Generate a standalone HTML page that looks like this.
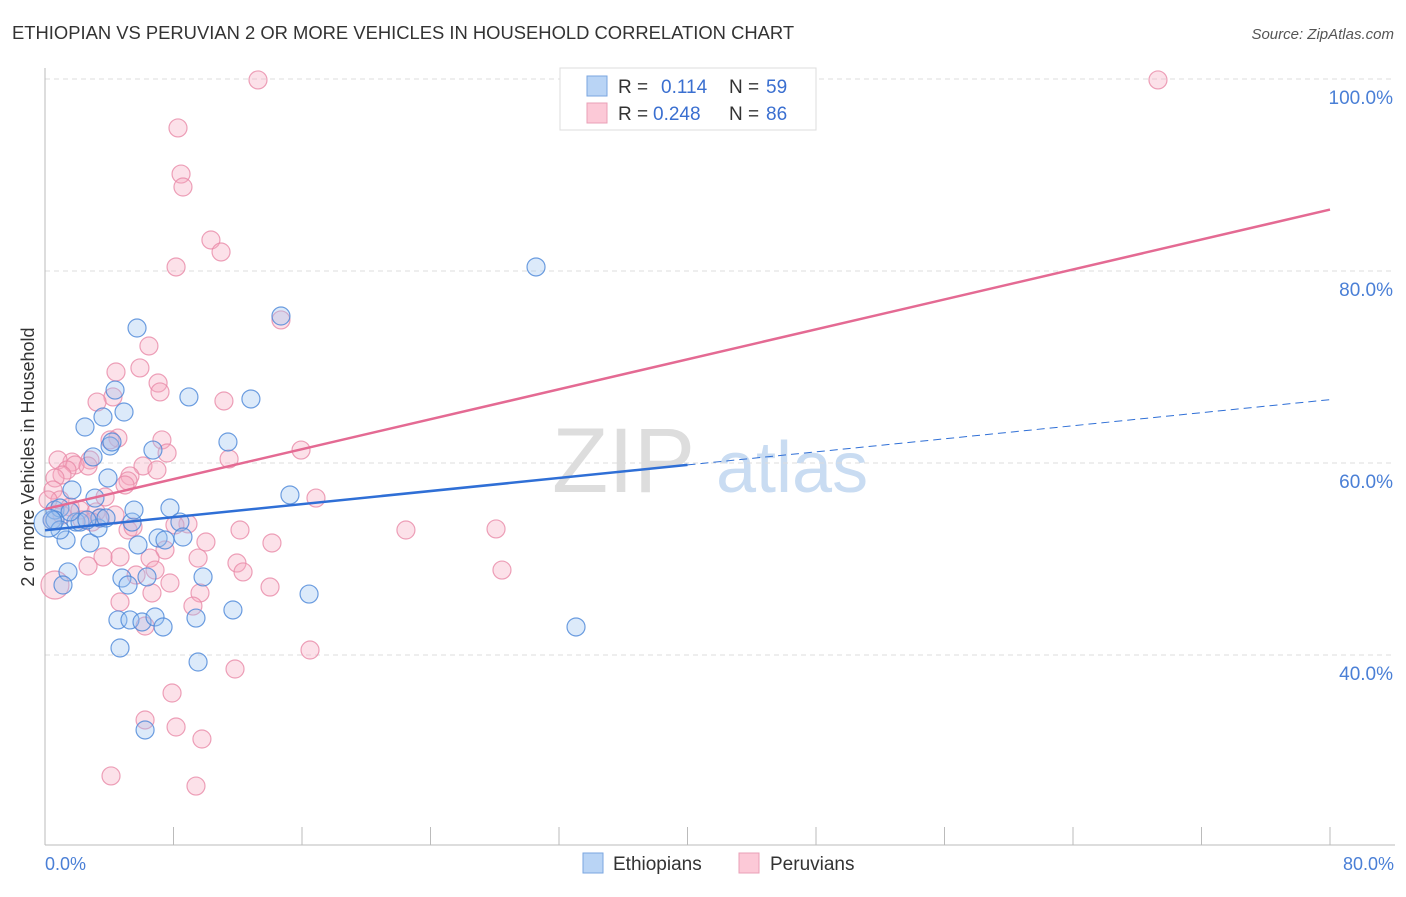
<!DOCTYPE html>
<html><head><meta charset="utf-8"><style>
body{margin:0;background:#fff;font-family:"Liberation Sans",sans-serif;}
svg text{font-family:"Liberation Sans",sans-serif;}
</style></head><body>
<svg id="chart" width="1406" height="892" xmlns="http://www.w3.org/2000/svg">
<text x="12" y="39" font-size="18.4" fill="#333">ETHIOPIAN VS PERUVIAN 2 OR MORE VEHICLES IN HOUSEHOLD CORRELATION CHART</text>
<text x="1394" y="39" font-size="15" fill="#555" font-style="italic" text-anchor="end">Source: ZipAtlas.com</text>
<g>
<text x="552" y="492" font-size="92" fill="#ddd" font-family="Liberation Serif,serif">ZIP</text>
<text x="716" y="492" font-size="72" fill="#c9dcf2">atlas</text>
</g>
<g id="grid"></g>
<g id="axes"></g>
<g id="pts"></g>
<g id="lines"></g>
<g>
<rect x="560" y="68" width="256" height="62" fill="#fff" stroke="#ddd"/>
<rect x="587" y="76" width="20" height="20" fill="#b9d4f5" stroke="#7aa6e0"/>
<rect x="587" y="103" width="20" height="20" fill="#fcc9d7" stroke="#eaa0b7"/>
<text x="618" y="93" font-size="19" fill="#333">R = </text><text x="661" y="93" font-size="19" fill="#3a6fd0">0.114</text>
<text x="729" y="93" font-size="19" fill="#333">N = </text><text x="766" y="93" font-size="19" fill="#3a6fd0">59</text>
<text x="618" y="120" font-size="19" fill="#333">R = </text><text x="653" y="120" font-size="19" fill="#3a6fd0">0.248</text>
<text x="729" y="120" font-size="19" fill="#333">N = </text><text x="766" y="120" font-size="19" fill="#3a6fd0">86</text>
</g>
<text transform="translate(34,457) rotate(-90)" font-size="18" fill="#333" text-anchor="middle">2 or more Vehicles in Household</text>
<text x="45" y="870" font-size="18" fill="#4a7fd6">0.0%</text>
<text x="1394" y="870" font-size="18" fill="#4a7fd6" text-anchor="end">80.0%</text>
<g>
<rect x="583" y="853" width="20" height="20" fill="#b9d4f5" stroke="#7aa6e0"/>
<text x="613" y="870" font-size="19" fill="#333">Ethiopians</text>
<rect x="739" y="853" width="20" height="20" fill="#fcc9d7" stroke="#eaa0b7"/>
<text x="770" y="870" font-size="19" fill="#333">Peruvians</text>
</g>
</svg>
<script>
const yTicks=[40,60,80,100];
const yTickLabels=["40.0%","60.0%","80.0%","100.0%"];
const xTicks=[0,8,16,24,32,40,48,56,64,72,80];
const bluePx=[[52,520],[55,510],[60,508],[66,540],[68,572],[63,585],[72,490],[76,522],[80,522],[85,427],[90,543],[93,457],[95,498],[98,528],[100,518],[103,417],[106,518],[108,478],[110,446],[112,442],[115,390],[118,620],[120,648],[122,578],[124,412],[128,585],[130,620],[132,522],[134,510],[137,328],[138,545],[142,622],[145,730],[147,577],[153,450],[155,617],[158,538],[163,627],[165,540],[170,508],[180,522],[183,537],[189,397],[196,618],[198,662],[203,577],[228,442],[233,610],[251,399],[281,316],[290,495],[309,594],[536,267],[576,627],[55,520],[60,530],[48,523],[70,512],[87,520]];
const pinkPx=[[258,80],[1158,80],[178,128],[181,174],[183,187],[211,240],[221,252],[176,267],[281,320],[149,346],[140,368],[116,372],[158,383],[160,392],[113,397],[97,402],[224,401],[118,438],[110,440],[162,440],[167,453],[301,450],[229,459],[90,460],[72,462],[58,460],[75,465],[88,466],[143,466],[157,470],[130,476],[128,481],[67,470],[62,475],[55,478],[125,485],[53,490],[60,500],[105,497],[316,498],[70,507],[80,510],[96,512],[100,518],[188,524],[240,530],[128,530],[133,527],[406,530],[496,529],[206,542],[272,543],[165,550],[120,557],[150,558],[103,557],[198,558],[88,566],[237,563],[243,572],[136,575],[155,570],[170,583],[200,593],[270,587],[502,570],[152,593],[120,602],[193,606],[145,626],[310,650],[235,669],[172,693],[145,720],[176,727],[202,739],[111,776],[196,786],[55,585],[48,500],[52,520],[62,515],[82,520],[92,522],[115,515],[175,525]];
const toData=p=>[+((p[0]-45)/16.0625).toFixed(2),+(100-(p[1]-79)/9.6).toFixed(2)];
const ethX=bluePx.map(p=>toData(p)[0]), ethY=bluePx.map(p=>toData(p)[1]);
const perX=pinkPx.map(p=>toData(p)[0]), perY=pinkPx.map(p=>toData(p)[1]);
const ethTrend=[[0,53.0],[40,59.8],[80,66.6]];
const perTrend=[[0,55.2],[80,86.4]];
const X=v=>45+v*16.0625, Y=v=>79+(100-v)*9.6;
const NS="http://www.w3.org/2000/svg";
function mk(t,a,parent){const e=document.createElementNS(NS,t);for(const k in a)e.setAttribute(k,a[k]);parent.appendChild(e);return e;}
const grid=document.getElementById('grid'), axes=document.getElementById('axes');
yTicks.forEach((v,i)=>{
 const l=mk('line',{x1:45,x2:1395,y1:Y(v),y2:Y(v),stroke:'#ddd','stroke-dasharray':'5,4'},grid);
 
 
 const t=mk('text',{x:1393,y:Y(v)+25,'font-size':19,fill:'#4a7fd6','text-anchor':'end'},grid);
 t.textContent=yTickLabels[i];
 
 
});
const ax=mk('line',{x1:45,x2:45,y1:68,y2:845,stroke:'#bbb'},axes);


const bx=mk('line',{x1:45,x2:1395,y1:845,y2:845,stroke:'#bbb'},axes);


xTicks.forEach(v=>{
 const t=mk('line',{x1:X(v),x2:X(v),y1:827,y2:845,stroke:'#bbb'},axes);
 
 
});
const pts=document.getElementById('pts');


function dots(xs,ys,fill,stroke,name){xs.forEach((x,i)=>{
 const big=(i===56&&name==='ethiopian-point')||(i===78&&name==='peruvian-point');
 const c=mk('circle',{cx:X(x),cy:Y(ys[i]),r:big?14:9,fill:fill,'fill-opacity':0.35,stroke:stroke,'stroke-width':1.2,'stroke-opacity':0.8},pts);
 
 
});}
dots(perX,perY,'#f7a8c0','#e88aa8','peruvian-point');
dots(ethX,ethY,'#9cc2f0','#4a86d8','ethiopian-point');
const lines=document.getElementById('lines');
const b1=mk('line',{x1:X(ethTrend[0][0]),y1:Y(ethTrend[0][1]),x2:X(ethTrend[1][0]),y2:Y(ethTrend[1][1]),stroke:'#2f6fd6','stroke-width':2.5},lines);


const b2=mk('line',{x1:X(ethTrend[1][0]),y1:Y(ethTrend[1][1]),x2:X(ethTrend[2][0]),y2:Y(ethTrend[2][1]),stroke:'#2f6fd6','stroke-width':1,'stroke-dasharray':'8,5'},lines);


const p1=mk('line',{x1:X(perTrend[0][0]),y1:Y(perTrend[0][1]),x2:X(perTrend[1][0]),y2:Y(perTrend[1][1]),stroke:'#e46a93','stroke-width':2.5},lines);


</script>
</body></html>
